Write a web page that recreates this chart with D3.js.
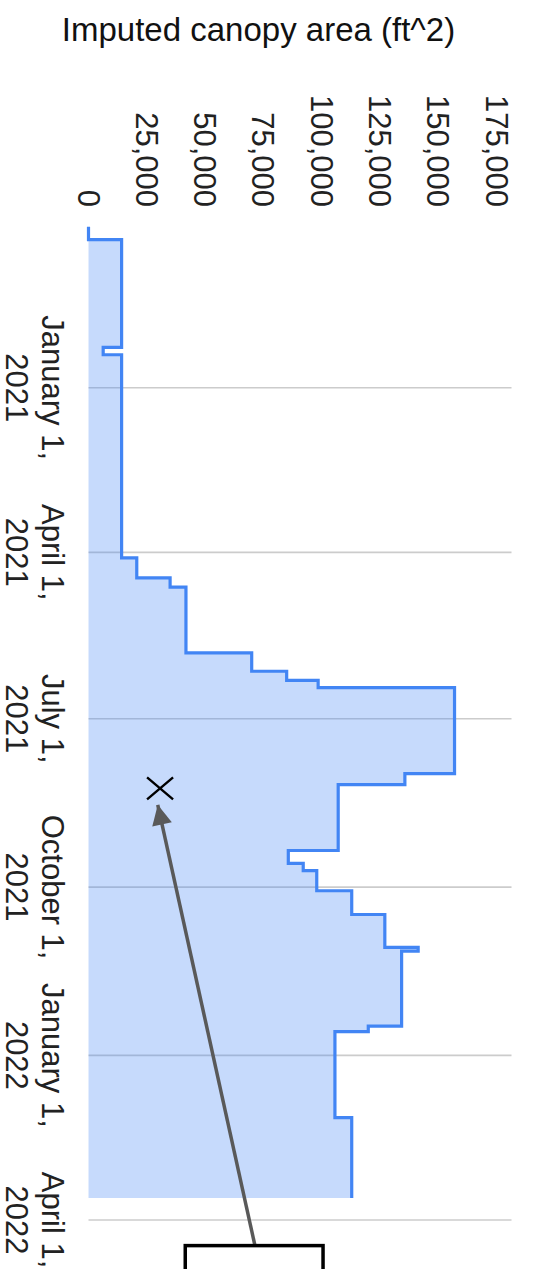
<!DOCTYPE html>
<html>
<head>
<meta charset="utf-8">
<script src="https://cdn.jsdelivr.net/npm/d3@7"></script>
<style>
  html, body { margin: 0; padding: 0; background: #fff; }
  svg { display: block; font-family: Arial, "Liberation Sans", sans-serif; }
</style>
</head>
<body>
<svg id="chart" width="537" height="1269"></svg>
<script>
// Canopy readings: each value holds from its date until the next reading
const readingDates = [
  "2020-10-05", "2020-10-12", "2020-12-10", "2020-12-14", "2021-04-04", "2021-04-15",
  "2021-04-20", "2021-05-26", "2021-06-05", "2021-06-10", "2021-06-14", "2021-07-31",
  "2021-08-06", "2021-09-11", "2021-09-18", "2021-09-22", "2021-10-03", "2021-10-16",
  "2021-11-03", "2021-11-05", "2021-12-16", "2021-12-19", "2022-02-04", "2022-03-20"
];
const canopyArea = [
  0, 14200, 6300, 14200, 20700, 35000,
  41800, 70000, 85000, 98500, 157000, 135700,
  107100, 85700, 92100, 97900, 112900, 127100,
  141400, 134300, 120000, 105700, 112900, 112900
];
const dateTicks = ["2021-01-01", "2021-04-01", "2021-07-01", "2021-10-01", "2022-01-01", "2022-04-01"];
const valueTicks = [0, 25000, 50000, 75000, 100000, 125000, 150000, 175000];
const axisTitle = "Imputed canopy area (ft^2)";

// Callout: a cross marking a point, an arrow from a note box pointing at it
const markerPoint = { date: "2021-08-08", value: 30700 };
const arrowTip = { date: "2021-08-17", value: 29700 };
const arrowTail = { date: "2022-04-15", value: 71400 };
const noteBox = { date: "2022-04-15", from: 41500, to: 100600 };

const parse = d3.utcParse("%Y-%m-%d");
const readings = readingDates.map((d, i) => ({ date: parse(d), value: canopyArea[i] }));

const svg = d3.select("#chart");

// The chart is laid out on its side: time runs down the page, area grows to the right
const x = d3.scaleLinear().domain([0, 175000]).range([88.5, 496.5]);
const y = d3.scaleUtc().domain([parse("2021-01-01"), parse("2022-04-01")]).range([387.7, 1220]);
const plotRight = 511.5;

// Date gridlines
svg.append("g")
  .selectAll("line")
  .data(dateTicks.map(parse))
  .join("line")
  .attr("x1", x(0)).attr("x2", plotRight)
  .attr("y1", d => y(d)).attr("y2", d => y(d))
  .attr("stroke", "#cccccc")
  .attr("stroke-width", 1.6);

// Stepped area and its outline
const area = d3.area()
  .y(d => y(d.date))
  .x0(x(0))
  .x1(d => x(d.value))
  .curve(d3.curveStepBefore);

const line = d3.line()
  .y(d => y(d.date))
  .x(d => x(d.value))
  .curve(d3.curveStepBefore);

svg.append("path")
  .datum(readings)
  .attr("d", area)
  .attr("fill", "#4285f4")
  .attr("fill-opacity", 0.3);

svg.append("path")
  .datum(readings)
  .attr("d", line)
  .attr("fill", "none")
  .attr("stroke", "#4285f4")
  .attr("stroke-width", 3.2)
  .attr("stroke-linejoin", "miter");

// Value axis labels, turned to read downward
const fmtValue = d3.format(",");
svg.append("g")
  .selectAll("text")
  .data(valueTicks)
  .join("text")
  .attr("transform", d => `translate(${x(d)},207) rotate(90)`)
  .attr("text-anchor", "end")
  .attr("dy", "0.35em")
  .attr("font-size", 31)
  .attr("fill", "#222")
  .text(d => fmtValue(d));

// Date axis labels on two lines
const fmtDay = d3.utcFormat("%B %-d,");
const fmtYear = d3.utcFormat("%Y");
const dateLabels = svg.append("g")
  .selectAll("text")
  .data(dateTicks.map(parse))
  .join("text")
  .attr("transform", d => `translate(42,${y(d)}) rotate(90)`)
  .attr("text-anchor", "middle")
  .attr("font-size", 31)
  .attr("fill", "#222");
dateLabels.append("tspan").attr("x", 0).attr("y", 0).text(d => fmtDay(d));
dateLabels.append("tspan").attr("x", 0).attr("y", 36).text(d => fmtYear(d));

// Axis title
svg.append("text")
  .attr("x", 258.5)
  .attr("y", 41)
  .attr("text-anchor", "middle")
  .attr("font-size", 33)
  .attr("fill", "#111")
  .text(axisTitle);

// Callout marker
const mx = x(markerPoint.value), my = y(parse(markerPoint.date));
svg.append("path")
  .attr("d", `M${mx - 13},${my - 11}L${mx + 13},${my + 11}M${mx + 13},${my - 11}L${mx - 13},${my + 11}`)
  .attr("stroke", "#000")
  .attr("stroke-width", 2.4)
  .attr("fill", "none");

// Callout arrow
svg.append("defs").append("marker")
  .attr("id", "arrowhead")
  .attr("viewBox", "0 0 10 10")
  .attr("refX", 10).attr("refY", 5)
  .attr("markerUnits", "userSpaceOnUse")
  .attr("markerWidth", 27).attr("markerHeight", 20)
  .attr("orient", "auto")
  .append("path")
  .attr("d", "M0,0L10,5L0,10Z")
  .attr("fill", "#595959");

svg.append("line")
  .attr("x1", x(arrowTail.value)).attr("y1", y(parse(arrowTail.date)))
  .attr("x2", x(arrowTip.value)).attr("y2", y(parse(arrowTip.date)))
  .attr("stroke", "#595959")
  .attr("stroke-width", 3.5)
  .attr("marker-end", "url(#arrowhead)");

// Note box
svg.append("rect")
  .attr("x", x(noteBox.from))
  .attr("y", y(parse(noteBox.date)))
  .attr("width", x(noteBox.to) - x(noteBox.from))
  .attr("height", 80)
  .attr("fill", "#fff")
  .attr("stroke", "#000")
  .attr("stroke-width", 3.5);
</script>
</body>
</html>
